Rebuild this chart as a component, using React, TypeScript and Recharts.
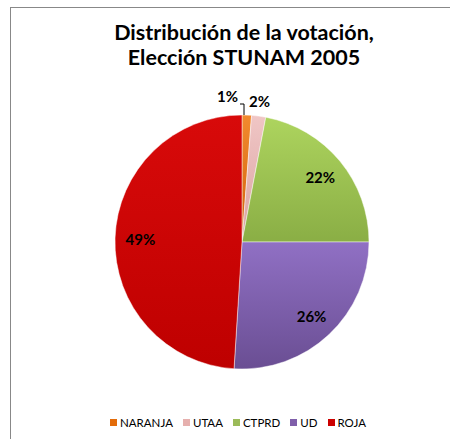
import React from 'react';
import { PieChart, Pie, Cell, Legend } from 'recharts';

const TITLE = ['Distribución de la votación,', 'Elección STUNAM 2005'];
const PARTIES = ['NARANJA', 'UTAA', 'CTPRD', 'UD', 'ROJA'];
const SHARES = [1.2, 1.8, 22, 26, 49];
const TOP_COLORS = ['#F28A2E', '#F0C6C5', '#ADD45E', '#9070C4', '#D80A0A'];
const BOTTOM_COLORS = ['#D0600A', '#D9A3A2', '#8AAE45', '#6A4E93', '#BE0000'];
const SWATCHES = ['#E36C0A', '#E6B0AE', '#9BBB59', '#7F5FAA', '#CC0000'];

const data = PARTIES.map((name, i) => ({ name, value: SHARES[i] }));

const RAD = Math.PI / 180;
const FONT = 'Lato, "Open Sans", sans-serif';

const renderLabel = (props: any) => {
  const { cx, cy, midAngle, outerRadius, percent, index } = props;
  const txt = `${Math.round(percent * 100)}%`;
  const top = cy - outerRadius;
  if (index === 0) {
    return (
      <g>
        <polyline
          points={`${cx + 2},${top} ${cx + 2},${top - 11} ${cx - 2},${top - 11}`}
          fill="none"
          stroke="#000"
          strokeWidth={1}
        />
        <text x={cx - 4} y={top - 13} textAnchor="end" fontSize={15} fontWeight={700} fontFamily={FONT} fill="#000">
          {txt}
        </text>
      </g>
    );
  }
  if (index === 1) {
    return (
      <text x={cx + 7} y={top - 8} textAnchor="start" fontSize={15} fontWeight={700} fontFamily={FONT} fill="#000">
        {txt}
      </text>
    );
  }
  const r = outerRadius * 0.8;
  const x = cx + r * Math.cos(-midAngle * RAD);
  const y = cy + r * Math.sin(-midAngle * RAD);
  return (
    <text x={x} y={y} textAnchor="middle" dominantBaseline="central" fontSize={15} fontWeight={700} fontFamily={FONT} fill="#000">
      {txt}
    </text>
  );
};

const LegendContent = () => (
  <div style={{ display: 'flex', justifyContent: 'center', gap: 10, fontFamily: FONT, fontSize: 11.5, color: '#000', paddingLeft: 26 }}>
    {PARTIES.map((p, i) => (
      <div key={p} style={{ display: 'flex', alignItems: 'center' }}>
        <span style={{ width: 7, height: 7, background: SWATCHES[i], marginRight: 3, display: 'inline-block' }} />
        <span>{p}</span>
      </div>
    ))}
  </div>
);

export default function App() {
  return (
    <div style={{ position: 'absolute', left: 0, top: 0, width: 450, height: 439, background: '#fff', overflow: 'hidden' }}>
      <div
        style={{
          position: 'absolute',
          left: 10,
          top: 7,
          width: 460,
          height: 460,
          borderLeft: '1px solid #888',
          borderTop: '1px solid #888',
        }}
      />
      <div
        style={{
          position: 'absolute',
          left: 0,
          top: 20,
          width: 488,
          textAlign: 'center',
          fontFamily: FONT,
          fontWeight: 700,
          fontSize: 21.5,
          lineHeight: '25px',
          color: '#000',
        }}
      >
        {TITLE.map((t) => (
          <div key={t}>{t}</div>
        ))}
      </div>
      <div style={{ position: 'absolute', left: 0, top: 0 }}>
        <PieChart width={450} height={439} margin={{ top: 0, right: 0, bottom: 0, left: 0 }}>
          <defs>
            {PARTIES.map((p, i) => (
              <linearGradient key={p} id={`g${i}`} x1="0" y1="0" x2="0" y2="1">
                <stop offset="0%" stopColor={TOP_COLORS[i]} />
                <stop offset="100%" stopColor={BOTTOM_COLORS[i]} />
              </linearGradient>
            ))}
          </defs>
          <Pie
            data={data}
            dataKey="value"
            nameKey="name"
            cx={242}
            cy={242}
            outerRadius={127}
            startAngle={90}
            endAngle={-270}
            label={renderLabel}
            labelLine={false}
            stroke="rgba(255,255,255,0.45)"
            strokeWidth={1}
            isAnimationActive={false}
          >
            {data.map((d, i) => (
              <Cell key={d.name} fill={`url(#g${i})`} />
            ))}
          </Pie>
          <Legend verticalAlign="bottom" content={<LegendContent />} wrapperStyle={{ bottom: 10 }} />
        </PieChart>
      </div>
    </div>
  );
}
